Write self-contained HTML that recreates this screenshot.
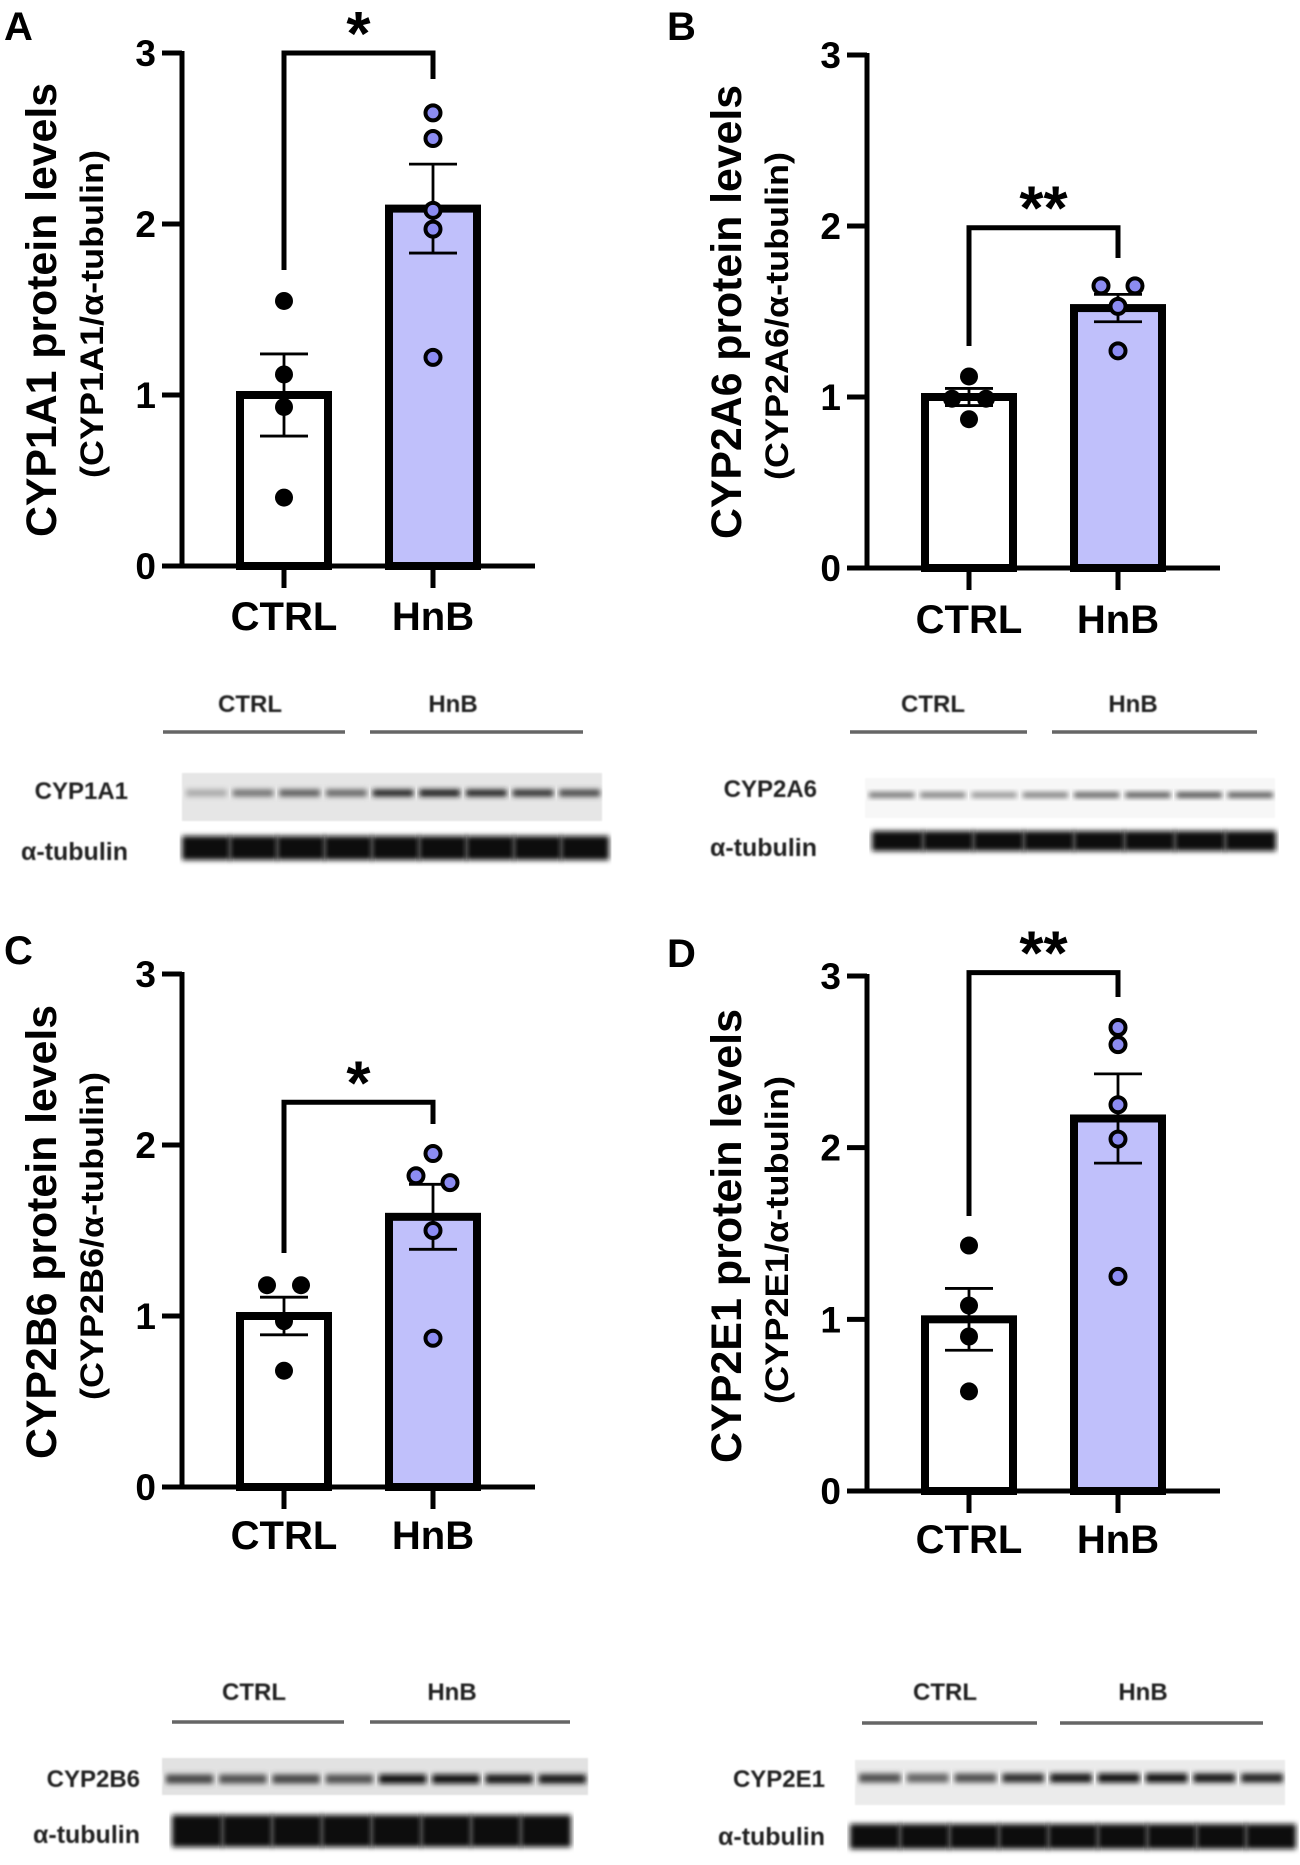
<!DOCTYPE html>
<html><head><meta charset="utf-8"><style>
html,body{margin:0;padding:0;background:#fff;}
svg{display:block;font-family:"Liberation Sans",Arial,sans-serif;}
</style></head><body>
<svg id="fig" width="1300" height="1865" viewBox="0 0 1300 1865" xmlns="http://www.w3.org/2000/svg">
<defs>
<filter id="blur" x="-5%" y="-80%" width="110%" height="260%"><feGaussianBlur stdDeviation="2.6"/></filter>
<filter id="blurT" x="-5%" y="-50%" width="110%" height="200%"><feGaussianBlur stdDeviation="0.7"/></filter>
</defs>
</svg>
<script>
// ---- data ----
const categories = ["CTRL", "HnB"];
const yTicks = [0, 1, 2, 3];
const aCtrlPts = [1.55, 1.12, 0.93, 0.40];
const aHnbPts = [2.65, 2.50, 2.08, 1.97, 1.22];
const aMeans = [1.00, 2.09];
const aSem = [0.24, 0.26];
const bCtrlPts = [1.12, 0.99, 0.99, 0.87];
const bHnbPts = [1.65, 1.65, 1.53, 1.27];
const bMeans = [1.00, 1.52];
const bSem = [0.05, 0.08];
const cCtrlPts = [1.18, 1.18, 0.97, 0.68];
const cHnbPts = [1.95, 1.82, 1.78, 1.50, 0.87];
const cMeans = [1.00, 1.58];
const cSem = [0.11, 0.19];
const dCtrlPts = [1.43, 1.08, 0.90, 0.58];
const dHnbPts = [2.70, 2.60, 2.25, 2.05, 1.25];
const dMeans = [1.00, 2.17];
const dSem = [0.18, 0.26];
const sigLabels = ["*", "**", "*", "**"];
const bracketLevels = [3.0, 1.99, 2.25, 3.02];

const NS = "http://www.w3.org/2000/svg";
const svg = document.getElementById("fig");
function mk(tag, attrs, parent, text) {
  const e = document.createElementNS(NS, tag);
  for (const k in attrs) e.setAttribute(k, attrs[k]);
  if (text !== undefined) e.textContent = text;
  (parent || svg).appendChild(e);
  return e;
}

const panels = [
  {id:"a", letter:"A", lx:4, ly:40, ax:182, y0:566, y3:53, title:"CYP1A1 protein levels", sub:"(CYP1A1/α-tubulin)", tx:42, sx:92, ty:310, ctrl:aCtrlPts, hnb:aHnbPts, means:aMeans, sem:aSem, base:630, lmin:270, rmin:79, sig:0},
  {id:"b", letter:"B", lx:667, ly:40, ax:867, y0:568, y3:55, title:"CYP2A6 protein levels", sub:"(CYP2A6/α-tubulin)", tx:727, sx:777, ty:312, ctrl:bCtrlPts, hnb:bHnbPts, means:bMeans, sem:bSem, base:633, lmin:346, rmin:258, sig:1},
  {id:"c", letter:"C", lx:4, ly:964, ax:182, y0:1487, y3:974, title:"CYP2B6 protein levels", sub:"(CYP2B6/α-tubulin)", tx:42, sx:92, ty:1232, ctrl:cCtrlPts, hnb:cHnbPts, means:cMeans, sem:cSem, base:1549, lmin:1253, rmin:1124, sig:2},
  {id:"d", letter:"D", lx:667, ly:967, ax:867, y0:1491, y3:976, title:"CYP2E1 protein levels", sub:"(CYP2E1/α-tubulin)", tx:727, sx:777, ty:1236, ctrl:dCtrlPts, hnb:dHnbPts, means:dMeans, sem:dSem, base:1553, lmin:1216, rmin:997, sig:3}
];

panels.forEach(p => {
  const g = mk("g", {});
  
  
  const yS = v => p.y0 - (p.y0 - p.y3) * v / 3;
  const xC = i => p.ax + 102 + i * 149;
  const barW = 96;

  const letter = mk("text", {x:p.lx, y:p.ly, "font-size":40, "font-weight":"bold"}, g, p.letter);
  
  

  const t1 = mk("text", {x:p.tx, y:p.ty, "font-size":43, "font-weight":"bold", "text-anchor":"middle", "dominant-baseline":"central", transform:`rotate(-90 ${p.tx} ${p.ty})`, textLength:454, lengthAdjust:"spacingAndGlyphs"}, g, p.title);
  
  
  const t2 = mk("text", {x:p.sx, y:p.ty+4, "font-size":32, "font-weight":"bold", "text-anchor":"middle", "dominant-baseline":"central", transform:`rotate(-90 ${p.sx} ${p.ty+4})`, textLength:328, lengthAdjust:"spacingAndGlyphs"}, g, p.sub);
  
  

  p.means.forEach((m, i) => {
    const r = mk("rect", {x:xC(i)-barW/2+4, y:yS(m), width:barW-8, height:p.y0-yS(m), fill:i ? "#c0c0fb" : "#fff", stroke:"#000", "stroke-width":8}, g);
    
    
  });
  const ya = mk("line", {x1:p.ax, y1:p.y3-2, x2:p.ax, y2:p.y0, stroke:"#000", "stroke-width":5}, g);
  
  
  const xa = mk("line", {x1:p.ax-20, y1:p.y0, x2:p.ax+353, y2:p.y0, stroke:"#000", "stroke-width":5}, g);
  
  
  yTicks.forEach(v => {
    const tl = mk("line", {x1:p.ax-20, y1:yS(v), x2:p.ax, y2:yS(v), stroke:"#000", "stroke-width":5}, g);
    
    
    const tt = mk("text", {x:p.ax-26, y:yS(v)+13, "font-size":37, "font-weight":"bold", "text-anchor":"end"}, g, String(v));
    
    
  });
  categories.forEach((c, i) => {
    const tk = mk("line", {x1:xC(i), y1:p.y0, x2:xC(i), y2:p.y0+22, stroke:"#000", "stroke-width":5}, g);
    
    
    const tl = mk("text", {x:xC(i), y:p.base, "font-size":40, "font-weight":"bold", "text-anchor":"middle"}, g, c);
    
    
  });
  p.means.forEach((m, i) => {
    const x = xC(i);
    const e = mk("path", {d:`M${x} ${yS(m-p.sem[i])}V${yS(m+p.sem[i])}M${x-24} ${yS(m+p.sem[i])}H${x+24}M${x-24} ${yS(m-p.sem[i])}H${x+24}`, stroke:"#000", "stroke-width":2.8, fill:"none"}, g);
    
    
  });
  const jitter = (arr) => arr.map((v, j) => {
    let same = arr.filter((w, k) => k < j && Math.abs(w - v) < 0.06).length;
    let tot = arr.filter(w => Math.abs(w - v) < 0.06).length;
    return tot > 1 ? (same - (tot - 1) / 2) * 34 : 0;
  });
  [p.ctrl, p.hnb].forEach((arr, i) => {
    const off = jitter(arr);
    arr.forEach((v, j) => {
      const c = mk("circle", {cx:xC(i)+off[j], cy:yS(v), r:i ? 7.5 : 9, fill:i ? "#8c8cf2" : "#000", stroke:"#000", "stroke-width":i ? 4 : 0}, g);
      
      
    });
  });
  const by = yS(bracketLevels[p.sig]);
  const br = mk("path", {d:`M${xC(0)} ${p.lmin}V${by}H${xC(1)}V${p.rmin}`, stroke:"#000", "stroke-width":5, fill:"none"}, g);
  
  
  const st = mk("text", {x:(xC(0)+xC(1))/2, y:by+2, "font-size":62, "font-weight":"bold", "text-anchor":"middle"}, g, sigLabels[p.sig]);
  
  
});

// ---- blots ----
const blotAProt = [0.25, 0.5, 0.6, 0.55, 0.85, 0.9, 0.85, 0.8, 0.7];
const blotBProt = [0.55, 0.5, 0.4, 0.5, 0.65, 0.7, 0.75, 0.7];
const blotCProt = [0.7, 0.65, 0.7, 0.65, 0.95, 0.95, 0.9, 0.9];
const blotDProt = [0.65, 0.55, 0.65, 0.8, 0.9, 0.95, 0.95, 0.9, 0.85];
const blots = [
  {id:"a", name:"CYP1A1", prot:blotAProt, labX:250, hnbX:453, labY:712, lines:[[163,345],[370,583]], lineY:732, bx:182, bw:420, by:773, bh:48, bandY:793, bandH:7, nameX:128, nameY:799, tubY:836, tubH:24, tubX:[182,608], tubNameY:860, bg:"#e6e6e6"},
  {id:"b", name:"CYP2A6", prot:blotBProt, labX:933, hnbX:1133, labY:712, lines:[[850,1027],[1052,1257]], lineY:732, bx:865, bw:410, by:778, bh:40, bandY:795, bandH:5, nameX:817, nameY:797, tubY:831, tubH:20, tubX:[872,1275], tubNameY:856, bg:"#f7f7f7"},
  {id:"c", name:"CYP2B6", prot:blotCProt, labX:254, hnbX:452, labY:1700, lines:[[172,344],[370,570]], lineY:1722, bx:162, bw:426, by:1758, bh:37, bandY:1779, bandH:9, nameX:140, nameY:1787, tubY:1815, tubH:32, tubX:[172,570], tubNameY:1843, bg:"#e2e2e2"},
  {id:"d", name:"CYP2E1", prot:blotDProt, labX:945, hnbX:1143, labY:1700, lines:[[862,1037],[1060,1263]], lineY:1723, bx:855, bw:430, by:1760, bh:45, bandY:1778, bandH:9, nameX:825, nameY:1787, tubY:1824, tubH:25, tubX:[850,1295], tubNameY:1845, bg:"#ebebeb"}
];
blots.forEach(b => {
  const g = mk("g", {});
  
  
  [["CTRL", b.labX], ["HnB", b.hnbX]].forEach(([t, x]) => {
    const l = mk("text", {x:x, y:b.labY, "font-size":24, "font-weight":"bold", "text-anchor":"middle", fill:"#222", filter:"url(#blurT)"}, g, t);
    
    
  });
  b.lines.forEach(([x1, x2]) => {
    const l = mk("line", {x1:x1, y1:b.lineY, x2:x2, y2:b.lineY, stroke:"#666", "stroke-width":3.5}, g);
    
    
  });
  const bgR = mk("rect", {x:b.bx, y:b.by, width:b.bw, height:b.bh, fill:b.bg, filter:"url(#blurT)"}, g);
  
  
  const n = b.prot.length;
  const lw = b.bw / n;
  b.prot.forEach((v, i) => {
    const c = Math.round(225 * (1 - v));
    const r = mk("rect", {x:b.bx + i*lw + 4, y:b.bandY - b.bandH/2, width:lw - 6, height:b.bandH, fill:`rgb(${c},${c},${c})`, filter:"url(#blur)"}, g);
    
    
  });
  const tw = (b.tubX[1] - b.tubX[0]) / n;
  b.prot.forEach((v, i) => {
    const r = mk("rect", {x:b.tubX[0] + i*tw, y:b.tubY, width:tw + 1, height:b.tubH, fill:"#0a0a0a", filter:"url(#blur)"}, g);
    
    
  });
  const l1 = mk("text", {x:b.nameX, y:b.nameY, "font-size":24, "font-weight":"bold", "text-anchor":"end", fill:"#222", filter:"url(#blurT)"}, g, b.name);
  
  
  const l2 = mk("text", {x:b.nameX, y:b.tubNameY, "font-size":25, "font-weight":"bold", "text-anchor":"end", fill:"#222", filter:"url(#blurT)"}, g, "α-tubulin");
  
  
});
</script>
</body></html>
